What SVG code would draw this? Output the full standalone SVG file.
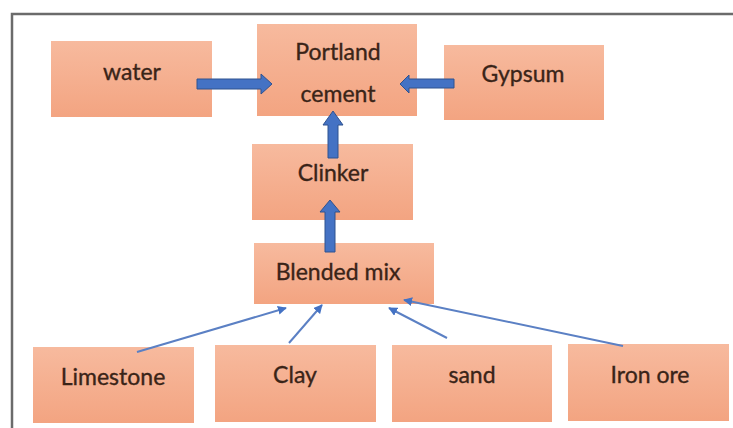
<svg xmlns="http://www.w3.org/2000/svg" width="733" height="428" viewBox="0 0 733 428">
<defs>
<linearGradient id="g" x1="0" y1="0" x2="0" y2="1">
<stop offset="0" stop-color="#F7BA9E"/>
<stop offset="1" stop-color="#F3A481"/>
</linearGradient>
<marker id="ah2" viewBox="0 0 10 10" refX="9" refY="5" markerWidth="4.5" markerHeight="4.5" orient="auto">
<path d="M0,0 L10,5 L0,10 z" fill="#4472C4"/>
</marker>
</defs>
<style>
.box{fill:url(#g);}
.lbl{font-family:Lato,"Liberation Sans",sans-serif;font-size:23px;fill:#3a2418;stroke:#3a2418;stroke-width:0.35;text-anchor:middle;}
.blk{fill:#4472C4;stroke:#2F528F;stroke-width:1;}
.thin{stroke:#5B80C4;stroke-width:2;fill:none;}
</style>
<rect width="733" height="428" fill="#ffffff"/>
<path d="M12,430 L12,14 L733,14" fill="none" stroke="#6b6b6b" stroke-width="2.5"/>
<g id="water"><rect class="box" x="51" y="41" width="161" height="76"/><text class="lbl" x="132" y="80">water</text></g>
<g id="portland"><rect class="box" x="257" y="24" width="160" height="92"/><text class="lbl" x="338" y="60">Portland</text><text class="lbl" x="338" y="102">cement</text></g>
<g id="gypsum"><rect class="box" x="444" y="45" width="160" height="75"/><text class="lbl" x="523" y="82">Gypsum</text></g>
<g id="clinker"><rect class="box" x="252" y="144" width="161" height="76"/><text class="lbl" x="333" y="181">Clinker</text></g>
<g id="blended"><rect class="box" x="254" y="243" width="180" height="61"/><text class="lbl" x="338" y="280">Blended mix</text></g>
<g id="limestone"><rect class="box" x="33" y="347" width="161" height="76"/><text class="lbl" x="113" y="385">Limestone</text></g>
<g id="clay"><rect class="box" x="215" y="345" width="161" height="77"/><text class="lbl" x="295" y="383">Clay</text></g>
<g id="sand"><rect class="box" x="392" y="345" width="160" height="77"/><text class="lbl" x="472" y="383">sand</text></g>
<g id="ironore"><rect class="box" x="568" y="344" width="161" height="77"/><text class="lbl" x="650" y="383">Iron ore</text></g>
<g id="connectors">
<polygon class="blk" points="197,79 261,79 261,74 272,84 261,94 261,89 197,89"/>
<polygon class="blk" points="454,79 409,79 409,75 400,84 409,93 409,88 454,88"/>
<polygon class="blk" points="328,158 328,125 323,125 333,111 343,125 338,125 338,158"/>
<polygon class="blk" points="325,252 325,212 320,212 330,200 340,212 335,212 335,252"/>
<line class="thin" x1="137" y1="352" x2="286" y2="308" marker-end="url(#ah2)"/>
<line class="thin" x1="289" y1="343" x2="322" y2="305" marker-end="url(#ah2)"/>
<line class="thin" x1="447" y1="338" x2="389" y2="308" marker-end="url(#ah2)"/>
<line class="thin" x1="623" y1="346" x2="404" y2="300" marker-end="url(#ah2)"/>
</g>
</svg>
